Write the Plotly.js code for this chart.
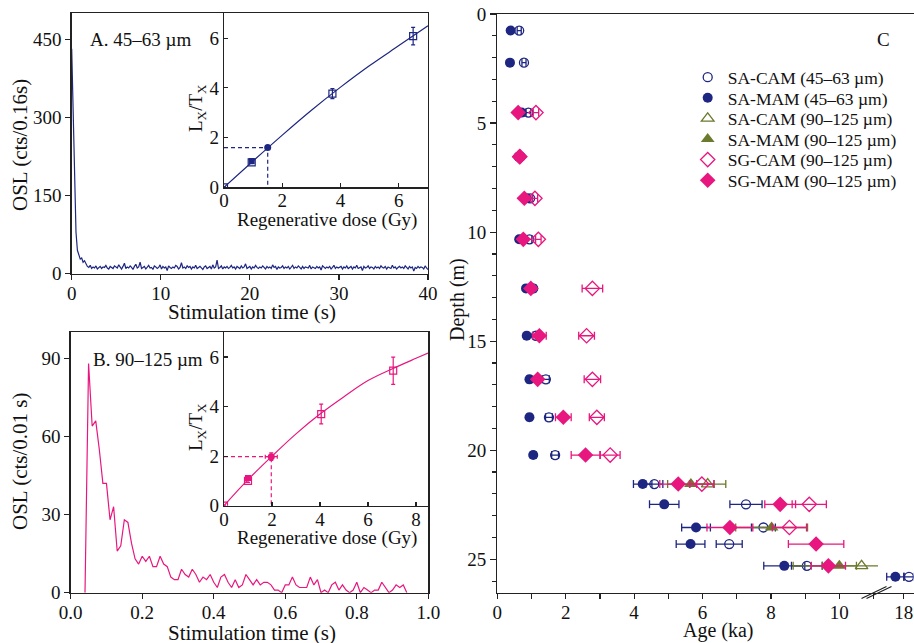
<!DOCTYPE html>
<html>
<head>
<meta charset="utf-8">
<script src="https://cdn.plot.ly/plotly-3.0.1.min.js"></script>
<style>html,body{margin:0;padding:0;background:#fff}#chart{width:914px;height:643px}</style>
</head>
<body>
<div id="chart"></div>
<script>
// ---------- Panel A: OSL decay (45–63 µm), channels of 0.16 s ----------
const oslA_start = 0, oslA_step = 0.16;
const oslA = [432,310,175,80,45,35,28,30,22,25,18,
14,12,16,10,13,11,15,9,12,14,10,13,12,16,11,9,14,12,10,15,
13,11,17,12,9,14,20,10,13,11,15,12,8,14,18,11,13,22,10,12,
14,9,13,16,11,12,8,15,13,10,12,17,9,14,11,13,6,15,12,10,
13,11,16,14,9,12,21,11,13,10,15,12,14,9,13,11,16,10,12,14,
11,8,13,15,10,12,14,9,17,11,13,26,10,12,15,9,13,11,14,10,
12,16,11,13,9,14,12,10,15,11,13,19,10,12,14,9,13,11,16,12,
10,13,11,15,12,9,14,11,13,10,17,12,14,8,13,11,12,15,10,13,
11,14,9,12,16,10,13,11,15,12,9,14,10,13,12,11,16,9,13,12,
10,14,11,13,7,15,12,10,13,11,14,9,12,16,10,13,11,12,14,9,
13,11,15,10,12,14,9,13,11,16,10,12,13,6,14,11,12,15,10,13,
12,9,14,11,13,10,15,12,11,14,9,13,12,10,16,11,13,9,12,14,
11,13,10,15,12,9,14,11,13,5,12,10,14,11,13,12,9,15,11,8];

// Inset A: growth curve
const gcA_dose = [0,1,2,3,4,5,6,7];
const gcA_ratio = [0,1.06,2.1,3.1,4.03,4.9,5.7,6.5];
const regA_dose = [0,0.95,3.72,6.49];
const regA_ratio = [0,1.0,3.77,6.08];
const regA_err = [0.02,0.05,0.2,0.35];
const recA_dose = [0.95];
const recA_ratio = [1.06];
const natA_dose = 1.5, natA_ratio = 1.6;

// ---------- Panel B: OSL decay (90–125 µm), channels of 0.01 s ----------
const oslB_start = 0.04, oslB_step = 0.01;
const oslB = [0,88,64,66,55,42,42,28,33,16,18,28,27,19,13,11,14,12,14,10,10,14,11,10,6,5,5,9,7,6,9,7,4,6,5,7,4,2,6,7,4,2,5,2,3,7,5,3,5,3,4,4,3,1,1,0,3,3,6,3,2,2,2,6,3,5,0,1,0,3,4,1,3,1,0,1,4,0,2,1,0,1,1,4,2,0,1,3,2,3,0];

// Inset B: growth curve
const gcB_dose = [0,1,2,3,4,5,6,7,8,8.5];
const gcB_ratio = [0,1.05,2.0,2.9,3.7,4.4,5.05,5.52,5.95,6.16];
const regB_dose = [0,1.0,4.05,7.05];
const regB_ratio = [0,1.0,3.7,5.45];
const regB_err = [0.02,0.06,0.4,0.55];
const recB_dose = [1.0];
const recB_ratio = [1.12];
const recB_err = [0.08];
const natB_dose = 1.97, natB_ratio = 1.98, natB_xerr = 0.25, natB_yerr = 0.15;

// ---------- Panel C: ages vs depth ----------
const rowDepth = [0.76,2.23,4.52,6.54,8.45,10.33,12.58,14.75,16.75,18.49,20.22,21.55,22.48,23.54,24.30,25.30,25.80];
const saCam45_age = [0.64,0.78,0.91,0.68,0.96,0.94,1.05,1.13,1.42,1.51,1.69,4.59,7.27,7.78,6.78,9.05,18.15];
const saCam45_err = [0.06,0.06,0.07,0.06,0.07,0.07,0.08,0.09,0.1,0.1,0.1,0.25,0.47,0.35,0.38,0.45,0.15];
const saMam45_age = [0.39,0.37,0.71,0.62,0.86,0.64,0.84,0.86,0.94,0.94,1.05,4.25,4.88,5.81,5.65,8.39,17.76];
const saMam45_err = [0.04,0.04,0.05,0.05,0.06,0.05,0.06,0.07,0.07,0.07,0.08,0.27,0.43,0.42,0.42,0.6,0.25];
const saCam90_depth = [21.55,25.30];
const saCam90_age = [6.15,10.65];
const saCam90_err = [0.53,2.0];
const saMam90_depth = [21.55,23.54,25.30];
const saMam90_age = [5.66,8.02,10.0];
const saMam90_err = [0.68,1.05,0.5];
const sgCam90_depth = [4.52,6.54,8.45,10.33,12.58,14.75,16.75,18.49,20.22,21.55,22.48,23.54];
const sgCam90_age = [1.13,0.66,1.10,1.20,2.78,2.61,2.78,2.91,3.30,5.98,9.12,8.54];
const sgCam90_err = [0.08,0.05,0.08,0.08,0.3,0.23,0.24,0.22,0.29,0.35,0.5,0.5];
const sgMam90_depth = [4.52,6.54,8.45,10.33,12.58,14.75,16.75,18.49,20.22,21.55,22.48,23.54,24.30,25.30];
const sgMam90_age = [0.61,0.65,0.79,0.76,0.98,1.23,1.18,1.93,2.58,5.29,8.27,6.80,9.32,9.68];
const sgMam90_err = [0.05,0.05,0.06,0.06,0.07,0.2,0.1,0.23,0.42,0.54,0.45,0.67,0.81,0.5];

const ageTicks = [0,2,4,6,8,10];
const ageBreak = 15; // ages above this go on the right-hand segment
const depthTicks = [0,5,10,15,20,25];

// ---------- styling ----------
const NAVY = '#1d2680', OLIVE = '#6b7a2c', PINK = '#e8177f';
const FONT = 'Liberation Serif, Times New Roman, serif';
const W = 914, H = 643;
const px = v => v / W, py = v => 1 - v / H;

const traces = [];
// A
traces.push({x0: oslA_start, dx: oslA_step, y: oslA, type: 'scatter', mode: 'lines',
  line: {color: NAVY, width: 1.2}, xaxis: 'x', yaxis: 'y', showlegend: false});
traces.push({x: [0, natA_dose, natA_dose], y: [natA_ratio, natA_ratio, 0], mode: 'lines',
  line: {color: NAVY, width: 1.2, dash: '4px,3px'}, xaxis: 'x2', yaxis: 'y2', showlegend: false});
traces.push({x: gcA_dose, y: gcA_ratio, mode: 'lines', line: {color: NAVY, width: 1.2, shape: 'spline'},
  xaxis: 'x2', yaxis: 'y2', showlegend: false});
traces.push({x: regA_dose, y: regA_ratio, mode: 'markers', error_y: {type: 'data', array: regA_err, color: NAVY, thickness: 1.2, width: 2},
  marker: {symbol: 'square-open', size: 7, color: NAVY, line: {color: NAVY, width: 1.2}}, xaxis: 'x2', yaxis: 'y2', showlegend: false});
traces.push({x: recA_dose, y: recA_ratio, mode: 'markers',
  marker: {symbol: 'square', size: 6, color: NAVY}, xaxis: 'x2', yaxis: 'y2', showlegend: false});
traces.push({x: [natA_dose], y: [natA_ratio], mode: 'markers',
  marker: {symbol: 'circle', size: 7, color: NAVY}, xaxis: 'x2', yaxis: 'y2', showlegend: false});
// B
traces.push({x0: oslB_start, dx: oslB_step, y: oslB, type: 'scatter', mode: 'lines',
  line: {color: PINK, width: 1.2}, xaxis: 'x3', yaxis: 'y3', showlegend: false});
traces.push({x: [0, natB_dose, natB_dose], y: [natB_ratio, natB_ratio, 0], mode: 'lines',
  line: {color: PINK, width: 1.2, dash: '4px,3px'}, xaxis: 'x4', yaxis: 'y4', showlegend: false});
traces.push({x: gcB_dose, y: gcB_ratio, mode: 'lines', line: {color: PINK, width: 1.2, shape: 'spline'},
  xaxis: 'x4', yaxis: 'y4', showlegend: false});
traces.push({x: regB_dose, y: regB_ratio, mode: 'markers', error_y: {type: 'data', array: regB_err, color: PINK, thickness: 1.2, width: 2},
  marker: {symbol: 'square-open', size: 7, color: PINK, line: {color: PINK, width: 1.2}}, xaxis: 'x4', yaxis: 'y4', showlegend: false});
traces.push({x: recB_dose, y: recB_ratio, mode: 'markers', error_y: {type: 'data', array: recB_err, color: PINK, thickness: 1.2, width: 2},
  marker: {symbol: 'square', size: 6, color: PINK}, xaxis: 'x4', yaxis: 'y4', showlegend: false});
traces.push({x: [natB_dose], y: [natB_ratio], mode: 'markers',
  error_x: {type: 'data', array: [natB_xerr], color: PINK, thickness: 1.2, width: 2},
  error_y: {type: 'data', array: [natB_yerr], color: PINK, thickness: 1.2, width: 2},
  marker: {symbol: 'circle', size: 7, color: PINK}, xaxis: 'x4', yaxis: 'y4', showlegend: false});

// C  (each series gets its own one-entry legend so rows can be spaced like the original)
const legendRowY = [77.3, 97.9, 118.5, 139.1, 159.7, 180.3];
let seriesIndex = 0;
const legends = {};
function ageSeries(name, depth, age, err, color, symbol, size) {
  const open = symbol.indexOf('open') >= 0;
  const L = {d: [], a: [], e: []}, R = {d: [], a: [], e: []};
  age.forEach((a, i) => { const t = a > ageBreak ? R : L; t.d.push(depth[i]); t.a.push(a); t.e.push(err[i]); });
  const mk = {symbol: symbol, size: size, color: color, line: {color: color, width: open ? 1.3 : 0}};
  const legName = seriesIndex === 0 ? 'legend' : 'legend' + (seriesIndex + 1);
  legends[legName] = {x: px(687.7), y: py(legendRowY[seriesIndex]), xanchor: 'left', yanchor: 'middle',
    bgcolor: 'rgba(0,0,0,0)', font: {family: FONT, size: 17.5, color: '#111'}, itemclick: false, itemdoubleclick: false};
  const base = (s, ax, show) => ({name: name, x: s.a, y: s.d, mode: 'markers', type: 'scatter',
    error_x: {type: 'data', array: s.e, color: color, thickness: 1.3, width: 4},
    marker: mk, xaxis: ax, yaxis: 'y5', showlegend: show, legend: legName});
  traces.push(base(L, 'x5', true));
  if (R.a.length) traces.push(base(R, 'x6', false));
  seriesIndex++;
}
ageSeries('SA-CAM (45–63 µm)', rowDepth, saCam45_age, saCam45_err, NAVY, 'circle-open', 9);
ageSeries('SA-MAM (45–63 µm)', rowDepth, saMam45_age, saMam45_err, NAVY, 'circle', 10);
ageSeries('SA-CAM (90–125 µm)', saCam90_depth, saCam90_age, saCam90_err, OLIVE, 'triangle-up-open', 11);
ageSeries('SA-MAM (90–125 µm)', saMam90_depth, saMam90_age, saMam90_err, OLIVE, 'triangle-up', 12);
ageSeries('SG-CAM (90–125 µm)', sgCam90_depth, sgCam90_age, sgCam90_err, PINK, 'diamond-open', 11);
ageSeries('SG-MAM (90–125 µm)', sgMam90_depth, sgMam90_age, sgMam90_err, PINK, 'diamond', 12);

const axBase = {showline: true, linecolor: '#222', linewidth: 1.3, ticks: 'outside', ticklen: 5, tickwidth: 1.2,
  tickcolor: '#222', showgrid: false, zeroline: false, tickfont: {family: FONT, size: 19, color: '#111'}, fixedrange: true};
const insetAx = {ticks: 'inside', ticklen: 4, mirror: true};
const mainX = {ticklabelstandoff: -3};

// axis titles, placed as paper-anchored text next to their axes
const titleAnn = (text, x, y, size, angle) => ({text: text, xref: 'paper', yref: 'paper', x: px(x), y: py(y),
  xanchor: 'center', yanchor: 'middle', showarrow: false, textangle: angle || 0,
  font: {family: FONT, size: size, color: '#111'}});

const layout = Object.assign({
  width: W, height: H, margin: {l: 0, r: 0, t: 0, b: 0}, paper_bgcolor: '#fff', plot_bgcolor: 'rgba(0,0,0,0)',
  font: {family: FONT, color: '#111'},
  xaxis: Object.assign({}, axBase, mainX, {domain: [px(71.7), px(428)], range: [0, 40], dtick: 10, mirror: true, anchor: 'y'}),
  yaxis: Object.assign({}, axBase, {domain: [py(273.7), py(13.3)], range: [0, 500], tickvals: [0,150,300,450], mirror: true, anchor: 'x'}),
  xaxis2: Object.assign({}, axBase, insetAx, {domain: [px(224), px(428)], range: [0, 7], dtick: 2, anchor: 'y2', ticklabelstandoff: -4}),
  yaxis2: Object.assign({}, axBase, insetAx, {domain: [py(187.3), py(13.3)], range: [0, 7], dtick: 2, anchor: 'x2'}),
  xaxis3: Object.assign({}, axBase, mainX, {domain: [px(70.7), px(428.3)], range: [0, 1], dtick: 0.2, tickformat: '.1f', mirror: true, anchor: 'y3'}),
  yaxis3: Object.assign({}, axBase, {domain: [py(592.7), py(332.3)], range: [0, 100], tickvals: [0,30,60,90], mirror: true, anchor: 'x3'}),
  xaxis4: Object.assign({}, axBase, insetAx, {domain: [px(224), px(428)], range: [0, 8.5], dtick: 2, anchor: 'y4', ticklabelstandoff: -4}),
  yaxis4: Object.assign({}, axBase, insetAx, {domain: [py(505.7), py(332.3)], range: [0, 7], dtick: 2, anchor: 'x4'}),
  xaxis5: Object.assign({}, axBase, mainX, {domain: [px(497.3), px(878)], range: [0, 11.13], tickvals: ageTicks, mirror: true, anchor: 'y5',
    minor: {dtick: 1, ticks: 'outside', ticklen: 5, tickwidth: 1.2, tickcolor: '#222'}}),
  xaxis6: Object.assign({}, axBase, mainX, {domain: [px(878), px(913.5)], range: [17.26, 18.28], tickvals: [18], mirror: true, anchor: 'y5'}),
  yaxis5: Object.assign({}, axBase, {domain: [py(592.7), py(14)], range: [26.53, 0], tickvals: depthTicks, anchor: 'x5', ticklen: 6,
    minor: {dtick: 1, ticks: 'outside', ticklen: 4, tickwidth: 1.2, tickcolor: '#222'}}),
  showlegend: true,
  annotations: [
    titleAnn('Stimulation time (s)', 252, 312, 21),
    titleAnn('OSL (cts/0.16s)', 20, 145, 21, -90),
    titleAnn('Regenerative dose (Gy)', 327, 219.5, 19),
    titleAnn('L<sub>X</sub>/T<sub>X</sub>', 197, 108, 19, -90),
    titleAnn('Stimulation time (s)', 252, 632.5, 21),
    titleAnn('OSL (cts/0.01 s)', 20, 462, 21, -90),
    titleAnn('Regenerative dose (Gy)', 327, 538, 19),
    titleAnn('L<sub>X</sub>/T<sub>X</sub>', 197, 427, 19, -90),
    titleAnn('Age (ka)', 718.5, 630, 20),
    titleAnn('Depth (m)', 457, 300, 20, -90),
    {text: 'A. 45–63 µm', xref: 'paper', yref: 'paper', x: px(88), y: py(40), xanchor: 'left', yanchor: 'middle', showarrow: false, font: {family: FONT, size: 19}},
    {text: 'B. 90–125 µm', xref: 'paper', yref: 'paper', x: px(91), y: py(359), xanchor: 'left', yanchor: 'middle', showarrow: false, font: {family: FONT, size: 19}},
    {text: 'C', xref: 'paper', yref: 'paper', x: px(883), y: py(40), xanchor: 'center', yanchor: 'middle', showarrow: false, font: {family: FONT, size: 19}}
  ],
  shapes: [
    {type: 'line', xref: 'paper', yref: 'paper', x0: px(861.5), y0: py(598.5), x1: px(886.5), y1: py(586.5), line: {color: '#222', width: 1.2}},
    {type: 'line', xref: 'paper', yref: 'paper', x0: px(866.5), y0: py(598.5), x1: px(891.5), y1: py(586.5), line: {color: '#222', width: 1.2}}
  ]
}, legends);

Plotly.newPlot('chart', traces, layout, {displayModeBar: false, staticPlot: true});
</script>
</body>
</html>
